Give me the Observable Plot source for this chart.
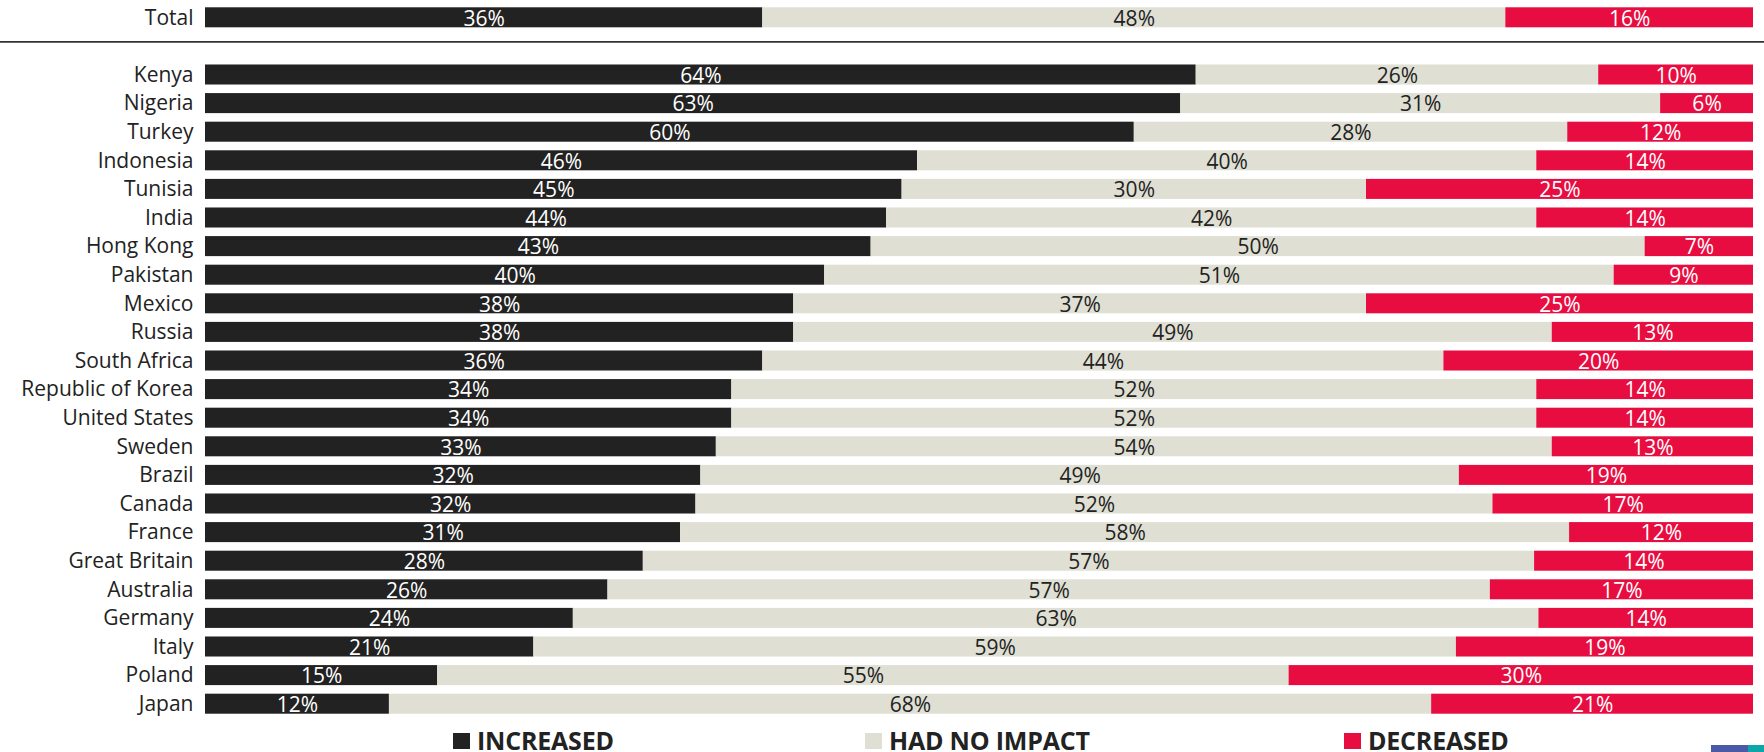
<!DOCTYPE html>
<html>
<head>
<meta charset="utf-8">
<script src="https://cdn.jsdelivr.net/npm/d3@7"></script>
<script src="https://cdn.jsdelivr.net/npm/@observablehq/plot@0.6"></script>
<style>
  html, body { margin: 0; padding: 0; background: #ffffff; overflow: hidden; }
  #wrap { position: relative; width: 1764px; height: 752px; }
  #legend { position: relative; height: 32px; width: 1764px; font-family: "Open Sans", sans-serif; }
  .item { position: absolute; top: 12px; display: flex; align-items: flex-start; }
  .sw { width: 17px; height: 16px; margin-top: 1px; margin-right: 7px; }
  .lab { font-size: 25px; font-weight: 700; line-height: 16px; color: #222222; letter-spacing: -0.2px; }
  #logo { position: absolute; left: 1711px; top: 745px; width: 53px; height: 7px; display: flex; }
</style>
</head>
<body>
<div id="wrap">
  <div id="chart"></div>
  <div id="legend"></div>
  <div id="logo"><div style="width:37px;background:#4b5aa6"></div><div style="width:16px;background:#0ca6a8"></div></div>
</div>
<script>
const countries = ["Total", "Kenya", "Nigeria", "Turkey", "Indonesia", "Tunisia", "India", "Hong Kong", "Pakistan", "Mexico", "Russia", "South Africa", "Republic of Korea", "United States", "Sweden", "Brazil", "Canada", "France", "Great Britain", "Australia", "Germany", "Italy", "Poland", "Japan"];
const increased = [36, 64, 63, 60, 46, 45, 44, 43, 40, 38, 38, 36, 34, 34, 33, 32, 32, 31, 28, 26, 24, 21, 15, 12];
const noImpact  = [48, 26, 31, 28, 40, 30, 42, 50, 51, 37, 49, 44, 52, 52, 54, 49, 52, 58, 57, 57, 63, 59, 55, 68];
const decreased = [16, 10, 6, 12, 14, 25, 14, 7, 9, 25, 13, 20, 14, 14, 13, 19, 17, 12, 14, 17, 14, 19, 30, 21];
const categories = ["INCREASED", "HAD NO IMPACT", "DECREASED"];
const colors = ["#222222", "#dfdfd3", "#e80d40"];
const textColors = ["#ffffff", "#222222", "#ffffff"];
const spacer = " ";

const series = [increased, noImpact, decreased];
const data = [];
countries.forEach((c, i) => {
  categories.forEach((cat, k) => {
    data.push({country: c, cat, value: series[k][i]});
  });
});

const yDomain = [countries[0], spacer, ...countries.slice(1)];

const chart = Plot.plot({
  width: 1764,
  height: 720,
  marginTop: 3,
  marginBottom: 2,
  marginLeft: 205,
  marginRight: 11,
  style: {fontFamily: "'Open Sans', sans-serif", fontSize: "21px", color: "#222222", background: "#ffffff"},
  x: {axis: null, domain: [0, 1]},
  y: {domain: yDomain, paddingInner: 0.3, paddingOuter: 0.15, round: false, label: null, tickSize: 0, tickPadding: 12},
  color: {domain: categories, range: colors},
  marks: [
    Plot.barX(data, Plot.stackX({
      x: "value", y: "country", fill: "cat", z: "cat",
      offset: "normalize", order: categories
    })),
    Plot.text(data, Plot.stackX({
      x: "value", y: "country", z: "cat",
      offset: "normalize", order: categories,
      text: d => d.value + "%",
      fill: d => textColors[categories.indexOf(d.cat)],
      fontSize: 21, dy: 1
    })),
    Plot.ruleY([spacer], {stroke: "#333333", strokeWidth: 1.6, dy: -4.5, insetLeft: -205, insetRight: -11}),
    Plot.axisY({tickSize: 0, tickPadding: 12, fontSize: 21, fill: "#222222", label: null})
  ]
});
document.getElementById("chart").appendChild(chart);

const lefts = [453, 865, 1344];
const legend = document.getElementById("legend");
categories.forEach((cat, k) => {
  const it = document.createElement("div");
  it.className = "item";
  it.style.left = lefts[k] + "px";
  it.innerHTML = `<div class="sw" style="background:${colors[k]}"></div><div class="lab">${cat}</div>`;
  legend.appendChild(it);
});
</script>
</body>
</html>
